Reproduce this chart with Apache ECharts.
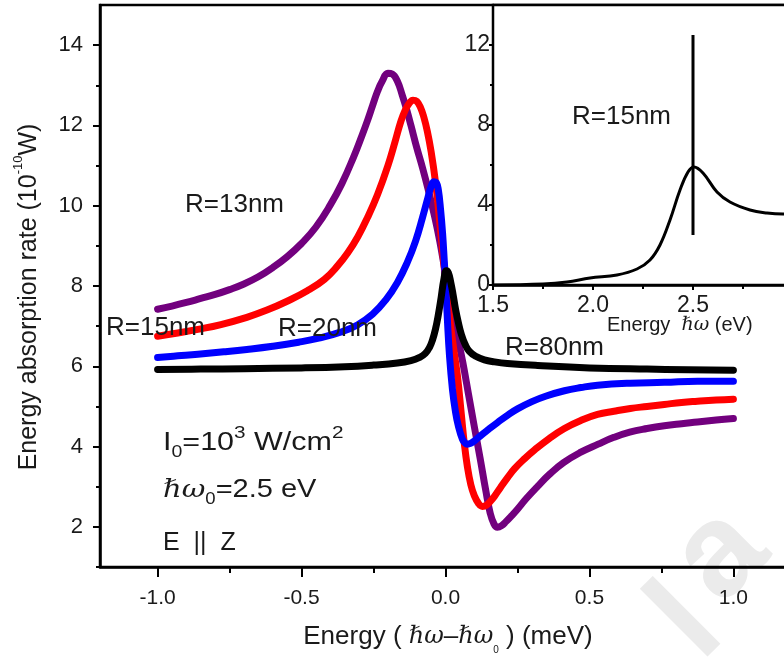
<!DOCTYPE html>
<html>
<head>
<meta charset="utf-8">
<script src="https://cdn.jsdelivr.net/npm/echarts@6/dist/echarts.min.js"></script>
<style>
  html, body { margin: 0; padding: 0; background: #fff; overflow: hidden; }
  /* the frames run a little past the right edge of the page */
  #chart { width: 810px; height: 661px; }
</style>
</head>
<body>
<div id="chart"></div>
<script>
// Tick positions (main plot, meV / 10^-10 W)
const xMajorTicks = [-1.0, -0.5, 0.0, 0.5, 1.0];
const xMinorTicks = [-0.75, -0.25, 0.25, 0.75];
const yMajorTicks = [2, 4, 6, 8, 10, 12, 14];
const yMinorTicks = [1, 3, 5, 7, 9, 11, 13];

// Inset ticks (eV / arb.)
const insetYMajor = [0, 4, 8, 12];
const insetYMinor = [2, 6, 10];

// Absorption rate vs detuning, one curve per radius
const r13 = [
  [-1.0, 7.42], [-0.95, 7.5], [-0.9, 7.59], [-0.85, 7.69], [-0.8, 7.79],
  [-0.75, 7.91], [-0.7, 8.05], [-0.65, 8.23], [-0.6, 8.46], [-0.55, 8.73],
  [-0.5, 9.06], [-0.45, 9.47], [-0.4, 10.02], [-0.36, 10.55], [-0.32, 11.2],
  [-0.29, 11.75], [-0.271, 12.12], [-0.253, 12.5], [-0.236, 12.85], [-0.22, 13.1],
  [-0.2, 13.3], [-0.185, 13.28], [-0.167, 13.1], [-0.15, 12.75], [-0.135, 12.4],
  [-0.12, 12.0], [-0.1, 11.45], [-0.08, 10.95], [-0.06, 10.4], [-0.04, 9.8],
  [-0.02, 9.12], [0.0, 8.3], [0.02, 7.55], [0.04, 6.8], [0.06, 6.1],
  [0.08, 5.3], [0.1, 4.5], [0.12, 3.72], [0.14, 2.9], [0.155, 2.35],
  [0.168, 2.08], [0.18, 1.99], [0.195, 2.03], [0.21, 2.13], [0.23, 2.28],
  [0.25, 2.44], [0.28, 2.7], [0.32, 3.01], [0.36, 3.3], [0.41, 3.6],
  [0.47, 3.86], [0.53, 4.06], [0.585, 4.23], [0.64, 4.36], [0.7, 4.45],
  [0.76, 4.52], [0.82, 4.57], [0.875, 4.61], [0.94, 4.66], [1.0, 4.70]
];
const r15 = [
  [-1.0, 6.75], [-0.93, 6.83], [-0.86, 6.92], [-0.78, 7.04], [-0.69, 7.22],
  [-0.62, 7.4], [-0.55, 7.62], [-0.48, 7.88], [-0.42, 8.17], [-0.375, 8.5],
  [-0.34, 8.82], [-0.305, 9.22], [-0.27, 9.72], [-0.236, 10.28], [-0.2, 11.0],
  [-0.175, 11.6], [-0.155, 12.1], [-0.14, 12.38], [-0.125, 12.56], [-0.113, 12.63],
  [-0.1, 12.6], [-0.087, 12.45], [-0.075, 12.2], [-0.063, 11.85], [-0.05, 11.35],
  [-0.035, 10.6], [-0.02, 9.6], [-0.007, 8.65], [0.005, 7.8], [0.017, 7.05],
  [0.03, 6.35], [0.042, 5.73], [0.055, 4.8], [0.065, 4.1], [0.076, 3.5],
  [0.088, 3.05], [0.1, 2.78], [0.115, 2.58], [0.128, 2.51], [0.142, 2.54],
  [0.155, 2.63], [0.17, 2.76], [0.19, 2.97], [0.215, 3.22], [0.24, 3.45],
  [0.275, 3.7], [0.31, 3.92], [0.36, 4.2], [0.413, 4.45], [0.47, 4.65],
  [0.528, 4.8], [0.585, 4.88], [0.642, 4.95], [0.7, 5.0], [0.76, 5.05],
  [0.82, 5.1], [0.875, 5.13], [0.94, 5.16], [1.0, 5.18]
];
const r20 = [
  [-1.0, 6.22], [-0.93, 6.26], [-0.86, 6.3], [-0.77, 6.36], [-0.69, 6.42],
  [-0.6, 6.5], [-0.51, 6.6], [-0.44, 6.7], [-0.365, 6.85], [-0.306, 7.03],
  [-0.253, 7.3], [-0.208, 7.65], [-0.167, 8.09], [-0.132, 8.6], [-0.104, 9.12],
  [-0.08, 9.7], [-0.063, 10.15], [-0.05, 10.48], [-0.04, 10.6], [-0.032, 10.58],
  [-0.025, 10.4], [-0.017, 9.9], [-0.01, 9.3], [-0.004, 8.6], [0.001, 8.0],
  [0.007, 7.1], [0.014, 6.25], [0.024, 5.43], [0.034, 4.9], [0.045, 4.5],
  [0.059, 4.18], [0.068, 4.09], [0.076, 4.06], [0.087, 4.08], [0.1, 4.14],
  [0.125, 4.29], [0.15, 4.43], [0.181, 4.6], [0.215, 4.78], [0.25, 4.94],
  [0.3, 5.12], [0.35, 5.26], [0.413, 5.39], [0.47, 5.47], [0.528, 5.53],
  [0.642, 5.58], [0.76, 5.6], [0.875, 5.63], [1.0, 5.63]
];
const r80 = [
  [-1.0, 5.92], [-0.85, 5.93], [-0.7, 5.94], [-0.5, 5.96], [-0.35, 5.99],
  [-0.25, 6.03], [-0.167, 6.08], [-0.12, 6.14], [-0.09, 6.22], [-0.07, 6.32],
  [-0.055, 6.48], [-0.045, 6.66], [-0.035, 6.92], [-0.025, 7.28], [-0.015, 7.72],
  [-0.006, 8.15], [0.003, 8.38], [0.01, 8.33], [0.018, 8.1], [0.026, 7.8],
  [0.035, 7.42], [0.045, 7.08], [0.055, 6.8], [0.068, 6.55], [0.083, 6.37],
  [0.105, 6.25], [0.135, 6.16], [0.17, 6.11], [0.215, 6.07], [0.32, 6.02],
  [0.5, 5.96], [0.7, 5.93], [1.0, 5.9]
];

// Inset: broad spectrum for R=15nm and the probe line at 2.5 eV
const insetSpectrum = [
  [1.5, 0.0], [1.75, 0.05], [1.87, 0.15], [1.985, 0.35], [2.12, 0.5],
  [2.22, 0.8], [2.285, 1.25], [2.335, 2.0], [2.385, 3.25], [2.435, 4.75],
  [2.475, 5.65], [2.505, 5.9], [2.55, 5.6], [2.62, 4.65], [2.685, 4.15],
  [2.785, 3.75], [2.87, 3.6], [2.95, 3.55], [3.0, 3.55]
];
const insetMarker = [[2.5, 2.5], [2.5, 12.5]];

const FONT = '"Liberation Sans", Arial, sans-serif';
const SERIF = '"DejaVu Serif", serif';
const TEXT = '#1a1a1a';

const chart = echarts.init(document.getElementById('chart'), null, { renderer: 'canvas' });

function mainLine(name, data, color) {
  return {
    name, type: 'line', data, xAxisIndex: 0, yAxisIndex: 0,
    smooth: 0.45, showSymbol: false, symbol: 'none',
    lineStyle: { color, width: 7, cap: 'round', join: 'round' },
    emphasis: { disabled: true }, animation: false
  };
}

const axisLine = { show: true, onZero: false, lineStyle: { color: '#000', width: 2.5 } };
const noLine = { show: false, onZero: false };
const tickStyle = { color: '#000', width: 2 };

chart.setOption({
  animation: false,
  backgroundColor: '#fff',
  grid: [
    { left: 100, top: 5, width: 691, height: 562, show: true,
      backgroundColor: 'transparent', borderColor: '#000', borderWidth: 2.5 },
    { left: 493, top: 5, width: 300, height: 280, show: true,
      backgroundColor: '#fff', borderColor: '#000', borderWidth: 2.5, z: 5 }
  ],
  xAxis: [
    { type: 'value', gridIndex: 0, min: -1.2, max: 1.2, position: 'bottom',
      axisLine, splitLine: { show: false },
      axisTick: { show: true, inside: false, length: 10, lineStyle: tickStyle, customValues: xMajorTicks },
      axisLabel: { show: true, margin: 21, customValues: xMajorTicks, fontFamily: FONT, fontSize: 21,
        color: TEXT, formatter: v => v.toFixed(1) } },
    { type: 'value', gridIndex: 0, min: -1.2, max: 1.2, position: 'bottom',
      axisLine: noLine, splitLine: { show: false }, axisLabel: { show: false },
      axisTick: { show: true, length: 6, lineStyle: tickStyle, customValues: xMinorTicks } },
    { type: 'value', gridIndex: 1, min: 1.5, max: 3.0, interval: 0.5, position: 'bottom',
      axisLine, splitLine: { show: false },
      axisTick: { show: true, length: 5, lineStyle: tickStyle },
      minorTick: { show: true, splitNumber: 2, length: 4, lineStyle: tickStyle },
      axisLabel: { show: true, margin: 9, fontFamily: FONT, fontSize: 23, color: TEXT,
        showMaxLabel: false, formatter: v => v.toFixed(1) } }
  ],
  yAxis: [
    { type: 'value', gridIndex: 0, min: 1, max: 15, position: 'left',
      axisLine, splitLine: { show: false },
      axisTick: { show: true, length: 7, lineStyle: tickStyle, customValues: yMajorTicks },
      axisLabel: { show: true, margin: 17, customValues: yMajorTicks, fontFamily: FONT, fontSize: 22, color: TEXT } },
    { type: 'value', gridIndex: 0, min: 1, max: 15, position: 'left',
      axisLine: noLine, splitLine: { show: false }, axisLabel: { show: false },
      axisTick: { show: true, length: 4, lineStyle: tickStyle, customValues: yMinorTicks } },
    { type: 'value', gridIndex: 1, min: 0, max: 14, position: 'left',
      axisLine, splitLine: { show: false },
      axisTick: { show: true, length: 4, lineStyle: tickStyle, customValues: insetYMajor },
      axisLabel: { show: true, margin: 3, customValues: insetYMajor, fontFamily: FONT, fontSize: 23, color: TEXT } },
    { type: 'value', gridIndex: 1, min: 0, max: 14, position: 'left',
      axisLine: noLine, splitLine: { show: false }, axisLabel: { show: false },
      axisTick: { show: true, length: 3, lineStyle: tickStyle, customValues: insetYMinor } }
  ],
  series: [
    mainLine('R=13nm', r13, '#72007e'),
    mainLine('R=15nm', r15, '#ff0000'),
    mainLine('R=20nm', r20, '#0000ff'),
    mainLine('R=80nm', r80, '#000000'),
    { name: 'spectrum', type: 'line', data: insetSpectrum, xAxisIndex: 2, yAxisIndex: 2,
      smooth: 0.4, showSymbol: false, symbol: 'none', z: 6,
      lineStyle: { color: '#000', width: 3 } },
    { name: 'probe', type: 'line', data: insetMarker, xAxisIndex: 2, yAxisIndex: 2,
      showSymbol: false, symbol: 'none', z: 6,
      lineStyle: { color: '#000', width: 3 } }
  ],
  graphic: [
    // faint stamp in the lower right corner
    { type: 'text', x: 722, y: 684, rotation: Math.PI / 4, z: -1, silent: true,
      style: { text: 'l', font: 'bold 132px ' + FONT, fill: '#ebebeb',
        textAlign: 'left', textVerticalAlign: 'bottom' } },
    { type: 'text', x: 742, y: 628, rotation: Math.PI / 4, z: -1, silent: true,
      style: { text: 'a', font: 'bold 132px ' + FONT, fill: '#ebebeb',
        textAlign: 'left', textVerticalAlign: 'bottom' } },
    // axis titles
    { type: 'text', x: 29, y: 297, rotation: Math.PI / 2, z: 10,
      style: { text: 'Energy absorption rate (10{sup|-10}W)', fill: TEXT,
        fontFamily: FONT, fontSize: 25, lineHeight: 34,
        textAlign: 'center', textVerticalAlign: 'middle',
        rich: { sup: { fontFamily: FONT, fontSize: 13, lineHeight: 14, verticalAlign: 'top', fill: TEXT } } } },
    { type: 'text', x: 448, y: 637, z: 10,
      style: { text: 'Energy ( {h|ℏω}–{h|ℏω}{s|0} ) (meV)', fill: TEXT,
        fontFamily: FONT, fontSize: 26, lineHeight: 36,
        textAlign: 'center', textVerticalAlign: 'middle',
        rich: {
          h: { fontFamily: SERIF, fontStyle: 'italic', fontSize: 24, lineHeight: 36, fill: TEXT },
          s: { fontFamily: FONT, fontSize: 10, lineHeight: 10, verticalAlign: 'bottom', fill: TEXT }
        } } },
    { type: 'text', x: 607, y: 325, z: 10,
      style: { text: 'Energy  {h|ℏω} (eV)', fill: TEXT, fontFamily: FONT, fontSize: 20,
        textAlign: 'left', textVerticalAlign: 'middle',
        rich: { h: { fontFamily: SERIF, fontStyle: 'italic', fontSize: 19, fill: TEXT } } } },
    // curve labels
    { type: 'text', x: 185, y: 205, z: 10,
      style: { text: 'R=13nm', fill: TEXT, font: '26px ' + FONT, textAlign: 'left', textVerticalAlign: 'middle' } },
    { type: 'text', x: 106, y: 328, z: 10,
      style: { text: 'R=15nm', fill: TEXT, font: '26px ' + FONT, textAlign: 'left', textVerticalAlign: 'middle' } },
    { type: 'text', x: 278, y: 329, z: 10,
      style: { text: 'R=20nm', fill: TEXT, font: '26px ' + FONT, textAlign: 'left', textVerticalAlign: 'middle' } },
    { type: 'text', x: 505, y: 348, z: 10,
      style: { text: 'R=80nm', fill: TEXT, font: '26px ' + FONT, textAlign: 'left', textVerticalAlign: 'middle' } },
    { type: 'text', x: 572, y: 117, z: 10,
      style: { text: 'R=15nm', fill: TEXT, font: '26px ' + FONT, textAlign: 'left', textVerticalAlign: 'middle' } },
    // conditions
    { type: 'text', x: 163, y: 443, z: 10, scaleX: 1.22,
      style: { text: 'I{sub|0}=10{sup|3} W/cm{sup|2}', fill: TEXT, fontFamily: FONT, fontSize: 25, lineHeight: 36,
        textAlign: 'left', textVerticalAlign: 'middle',
        rich: {
          sub: { fontFamily: FONT, fontSize: 16, lineHeight: 14, verticalAlign: 'bottom', fill: TEXT },
          sup: { fontFamily: FONT, fontSize: 17, lineHeight: 17, verticalAlign: 'top', fill: TEXT }
        } } },
    { type: 'text', x: 163, y: 490, z: 10, scaleX: 1.16,
      style: { text: '{h|ℏω}{sub|0}=2.5 eV', fill: TEXT, fontFamily: FONT, fontSize: 25, lineHeight: 36,
        textAlign: 'left', textVerticalAlign: 'middle',
        rich: {
          h: { fontFamily: SERIF, fontStyle: 'italic', fontSize: 25, lineHeight: 36, fill: TEXT },
          sub: { fontFamily: FONT, fontSize: 16, lineHeight: 14, verticalAlign: 'bottom', fill: TEXT }
        } } },
    { type: 'text', x: 163, y: 543, z: 10,
      style: { text: 'E  ||  Z', fill: TEXT, font: '25px ' + FONT, textAlign: 'left', textVerticalAlign: 'middle' } }
  ]
});
</script>
</body>
</html>
